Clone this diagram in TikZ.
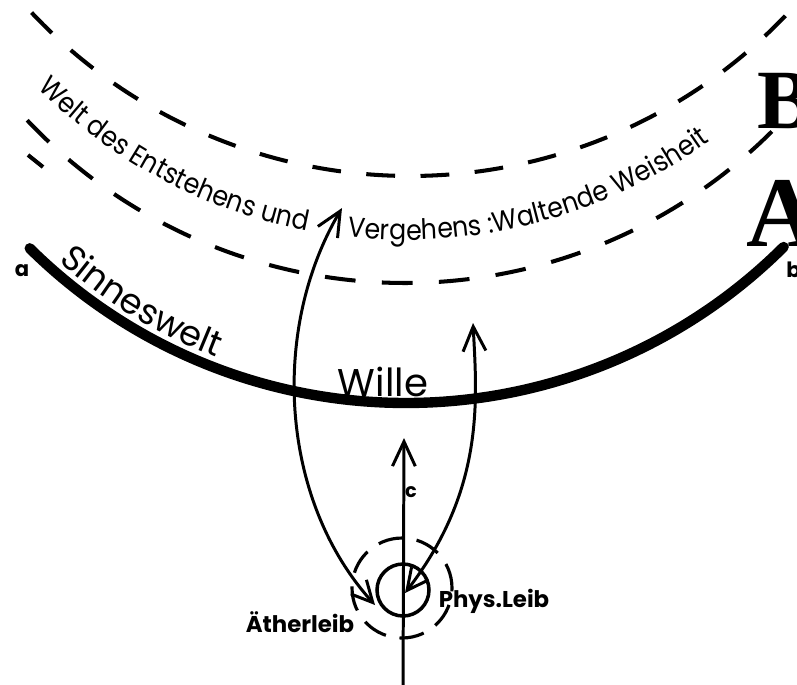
\documentclass[tikz,border=0pt]{standalone}
\usepackage{fontspec}
\usetikzlibrary{arrows.meta,decorations.text}
\newfontfamily\hand{Poppins}
\newfontfamily\handn[FakeStretch=0.9]{Poppins}
\newfontfamily\serifbf{Liberation Serif}
\begin{document}
\begin{tikzpicture}[x=0.02cm,y=-0.02cm,
  dashtop/.style={line width=2.3pt, dash pattern=on 16.4pt off 14.5pt},
  dashlow/.style={line width=2.3pt, dash pattern=on 17.5pt off 15pt},
  conn/.style={line width=1.7pt},
  tipbig/.tip={Straight Barb[length=14pt,width=13pt]},
  tipsmall/.tip={Straight Barb[length=12pt,width=12pt]},
  lbl/.style={inner sep=0pt, font=\hand\bfseries\fontsize{13pt}{16pt}\selectfont}]
\useasboundingbox (0,0) rectangle (797,684);
\clip (0,0) rectangle (797,684);
\fill[white] (0,0) rectangle (797,684);

% dashed curves (world of becoming)
\draw[dashtop] plot[domain=43.3:136.5, samples=150] ({410+520*cos(180-\x)},{-344+520*sin(180-\x)});
\draw[dashlow] plot[domain=43.4:136.0, samples=150] ({405+520*cos(180-\x)},{-237+520*sin(180-\x)});
\coordinate (d1) at (28,155); \coordinate (d2) at (43,167);
\draw[line width=2.3pt] (d1) -- (d2);

% thick arc: Sinneswelt
\draw[line width=5.9pt, line cap=round] plot[domain=45.3:134.9, samples=150] ({406+535*cos(180-\x)},{-132+535*sin(180-\x)});

% curved texts
\path[decorate, decoration={text along path, text={|\handn\fontsize{16pt}{19pt}\selectfont|Welt des Entstehens und}}]
  plot[domain=45.1:82, samples=100] ({405+520*cos(180-\x)},{-280+520*sin(180-\x)});
\path[decorate, decoration={text along path, text={|\handn\fontsize{16pt}{19pt}\selectfont|Vergehens :Waltende Weisheit}}]
  plot[domain=83.6:150, samples=150] ({405+520*cos(180-\x)},{-280+520*sin(180-\x)});
\path[decorate, decoration={text along path, text={|\hand\fontsize{20pt}{24pt}\selectfont|Sinneswelt}}]
  plot[domain=48.5:85, samples=100] ({406+525*cos(180-\x)},{-132+525*sin(180-\x)});

% labels
\node[inner sep=0pt, font=\hand\fontsize{22pt}{26pt}\selectfont] (wille) at (383,382) {Wille};
\node[inner sep=0pt, font=\hand\bfseries\fontsize{12pt}{15pt}\selectfont] (la) at (22,271) {a};
\node[inner sep=0pt, anchor=west, font=\hand\bfseries\fontsize{12pt}{15pt}\selectfont] (lb) at (786,270) {b};
\node[inner sep=0pt, font=\hand\bfseries\fontsize{11pt}{14pt}\selectfont] (lc) at (411,492) {c};
\node[lbl] (ath) at (300,622) {Ätherleib};
\node[lbl] (phys) at (494,601) {Phys.Leib};
\node[anchor=base west, inner sep=0pt, font=\serifbf\bfseries\fontsize{48pt}{50pt}\selectfont] (B) at (757,128) {B};
\node[anchor=base west, inner sep=0pt, font=\serifbf\bfseries\fontsize{57pt}{60pt}\selectfont] (A) at (746,246) {A};

% bodies
\node[circle, draw, line width=2pt, minimum size=1.04cm, inner sep=0pt] (phl) at (403,590) {};
\node[circle, draw, line width=1.8pt, dash pattern=on 14.2pt off 7.9pt, minimum size=2cm, inner sep=0pt] (athc) at (402,588) {};

% vertical arrow c
\coordinate (vb) at (403,690);
\coordinate (vt) at (404,438);
\draw[conn, -tipbig] (vb) -- (vt);

% curved arrows
\coordinate (ltop) at (342,208);
\coordinate (lbot) at (375,605);
\draw[conn, tipsmall-tipbig] (lbot) .. controls (280,500) and (270,330) .. (ltop);
\coordinate (rtop) at (473,323);
\coordinate (rbot) at (405,593);
\draw[conn, tipsmall-tipbig] (rbot) .. controls (485,489) and (477,400) .. (rtop);
\end{tikzpicture}
\end{document}
